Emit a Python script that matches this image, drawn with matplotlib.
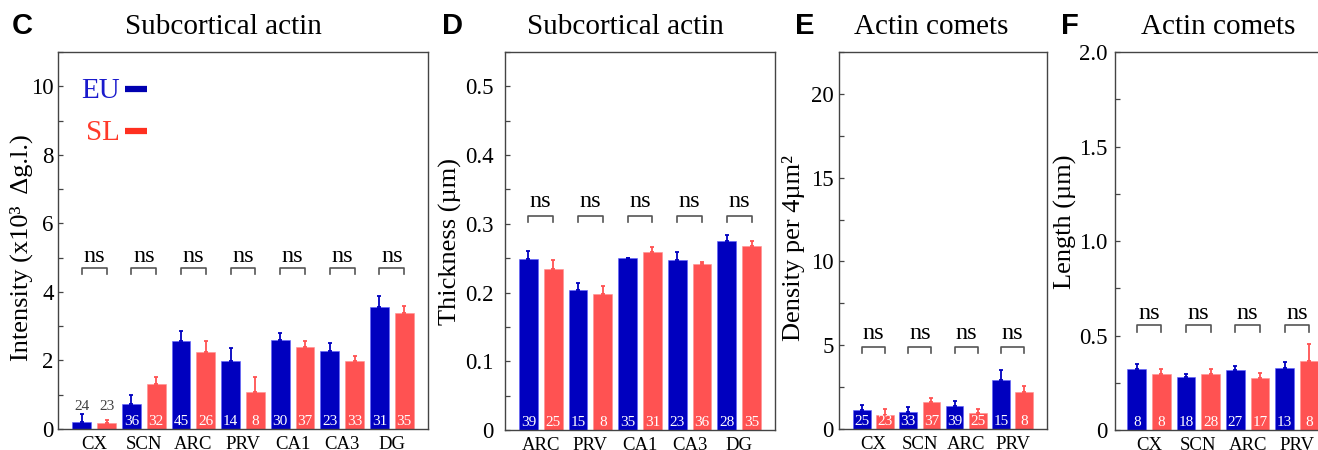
import matplotlib
matplotlib.use('Agg')
import matplotlib.pyplot as plt
import numpy as np
from matplotlib.ticker import MultipleLocator, FuncFormatter

plt.rcParams['font.family'] = ['Liberation Serif', 'DejaVu Serif']

BLUE = '#0000bf'
RED = '#ff5252'
FRAME = '#444444'

# Panel C - Subcortical actin intensity
c_regions = ['CX', 'SCN', 'ARC', 'PRV', 'CA1', 'CA3', 'DG']
c_eu = [0.20, 0.74, 2.57, 1.98, 2.60, 2.28, 3.57]
c_eu_err = [0.23, 0.24, 0.28, 0.38, 0.20, 0.22, 0.32]
c_sl = [0.18, 1.32, 2.24, 1.09, 2.38, 1.99, 3.38]
c_sl_err = [0.09, 0.21, 0.32, 0.44, 0.19, 0.14, 0.21]
c_n_eu = [24, 36, 45, 14, 30, 23, 31]
c_n_sl = [23, 32, 26, 8, 37, 33, 35]

# Panel D - Subcortical actin thickness
d_regions = ['ARC', 'PRV', 'CA1', 'CA3', 'DG']
d_eu = [0.249, 0.203, 0.250, 0.247, 0.275]
d_eu_err = [0.012, 0.011, 0.0, 0.012, 0.009]
d_sl = [0.234, 0.198, 0.259, 0.241, 0.267]
d_sl_err = [0.013, 0.012, 0.007, 0.004, 0.008]
d_n_eu = [39, 15, 35, 23, 28]
d_n_sl = [25, 8, 31, 36, 35]

# Panel E - Actin comet density
e_regions = ['CX', 'SCN', 'ARC', 'PRV']
e_eu = [1.13, 1.03, 1.39, 2.92]
e_eu_err = [0.28, 0.30, 0.30, 0.60]
e_sl = [0.85, 1.59, 0.97, 2.23]
e_sl_err = [0.32, 0.24, 0.20, 0.33]
e_n_eu = [25, 33, 39, 15]
e_n_sl = [23, 37, 25, 8]

# Panel F - Actin comet length
f_regions = ['CX', 'SCN', 'ARC', 'PRV']
f_eu = [0.321, 0.282, 0.317, 0.330]
f_eu_err = [0.026, 0.016, 0.021, 0.031]
f_sl = [0.298, 0.298, 0.277, 0.365]
f_sl_err = [0.026, 0.023, 0.026, 0.090]
f_n_eu = [8, 18, 27, 13]
f_n_sl = [8, 28, 17, 8]

W, H = 1318, 450
fig = plt.figure(figsize=(W / 100, H / 100), dpi=100)


def px_axes(left, right, top, bottom):
    return fig.add_axes([left / W, 1 - bottom / H, (right - left) / W, (bottom - top) / H])


def draw_panel(ax, regions, eu, eu_err, sl, sl_err, n_eu, n_sl, ylim, major, minor,
               fmt, ns_text_y, br_top, br_bot, xpad=0.73, ypad=4, n_above=None):
    x = np.arange(len(regions))
    off, w = 0.25, 0.38
    ax.bar(x - off, eu, w, color=BLUE, edgecolor='#6060ff', linewidth=0.4, zorder=2)
    ax.bar(x + off, sl, w, color=RED, edgecolor='#ff9090', linewidth=0.4, zorder=2)
    ax.errorbar(x - off, eu, yerr=[np.zeros(len(eu)), eu_err], fmt='none',
                ecolor=BLUE, elinewidth=1.3, capsize=1.5, capthick=1.3, zorder=3)
    ax.errorbar(x + off, sl, yerr=[np.zeros(len(sl)), sl_err], fmt='none',
                ecolor=RED, elinewidth=1.3, capsize=1.5, capthick=1.3, zorder=3)

    for i in range(len(regions)):
        for xx, n in ((x[i] - off, n_eu[i]), (x[i] + off, n_sl[i])):
            if n_above is not None and i in n_above:
                ax.text(xx, n_above[i], str(n), ha='center', va='center',
                        fontsize=11, color='#404040', zorder=4)
            else:
                ax.annotate(str(n), (xx, 0), xytext=(0, 0.5), textcoords='offset points',
                            ha='center', va='bottom', fontsize=11, color='white', zorder=4)
        # ns bracket
        ax.plot([x[i] - off, x[i] - off, x[i] + off, x[i] + off],
                [br_bot, br_top, br_top, br_bot], color='#555555', lw=1.2, zorder=3)
        ax.text(x[i], ns_text_y, 'ns', ha='center', va='center', fontsize=17.5)

    ax.set_xlim(-xpad, len(regions) - 1 + xpad)
    ax.set_ylim(*ylim)
    ax.set_xticks(x)
    ax.set_xticklabels(regions)
    ax.tick_params(axis='x', length=0, labelsize=13.5, pad=5)
    ax.yaxis.set_major_locator(MultipleLocator(major))
    ax.yaxis.set_minor_locator(MultipleLocator(minor))
    ax.yaxis.set_major_formatter(FuncFormatter(fmt))
    ax.tick_params(axis='y', which='both', direction='in', length=3.5, width=0.9,
                   color=FRAME, labelsize=16.5, pad=ypad)
    for s in ax.spines.values():
        s.set_color(FRAME)
        s.set_linewidth(1.0)


def int_fmt(v, pos):
    return f'{v:.0f}'


def dec_fmt(v, pos):
    return '0' if abs(v) < 1e-9 else f'{v:.1f}'


# C
axC = px_axes(58, 428, 52, 429)
draw_panel(axC, c_regions, c_eu, c_eu_err, c_sl, c_sl_err, c_n_eu, c_n_sl,
           (0, 11), 2, 1, int_fmt, 5.04, 4.70, 4.51, ypad=3, n_above={0: 0.67})
axC.set_ylabel('Intensity (x10³  Δg.l.)', fontsize=19)
axC.yaxis.set_label_coords(-0.068, 0.48)
axC.text(0.168, 0.897, 'EU', transform=axC.transAxes, ha='right', va='center',
         fontsize=21, color='#1a1acc')
axC.text(0.168, 0.786, 'SL', transform=axC.transAxes, ha='right', va='center',
         fontsize=21, color='#ff3a2a')
axC.plot([0.181, 0.241], [0.901, 0.901], transform=axC.transAxes, color='#0000b0',
         lw=4.5, solid_capstyle='butt')
axC.plot([0.181, 0.241], [0.790, 0.790], transform=axC.transAxes, color='#ff3020',
         lw=4.5, solid_capstyle='butt')

# D
axD = px_axes(505, 775, 52, 430)
draw_panel(axD, d_regions, d_eu, d_eu_err, d_sl, d_sl_err, d_n_eu, d_n_sl,
           (0, 0.55), 0.1, 0.05, dec_fmt, 0.332, 0.3115, 0.303, xpad=0.72, ypad=8)
axD.set_ylabel('Thickness (µm)', fontsize=19)
axD.yaxis.set_label_coords(-0.159, 0.5)

# E
axE = px_axes(839, 1047, 52, 429)
draw_panel(axE, e_regions, e_eu, e_eu_err, e_sl, e_sl_err, e_n_eu, e_n_sl,
           (0, 22.5), 5, 2.5, int_fmt, 5.71, 4.91, 4.52, xpad=0.74, ypad=4)
axE.set_ylabel('Density per 4µm²', fontsize=19)
axE.yaxis.set_label_coords(-0.163, 0.48)

# F (right side runs past the figure edge)
axF = px_axes(1115, 1331, 52, 430)
draw_panel(axF, f_regions, f_eu, f_eu_err, f_sl, f_sl_err, f_n_eu, f_n_sl,
           (0, 2.0), 0.5, 0.25, dec_fmt, 0.617, 0.556, 0.517, xpad=0.69, ypad=5.5)
axF.set_ylabel('Length (µm)', fontsize=19)
axF.yaxis.set_label_coords(-0.176, 0.55)

# titles and panel letters
titles = [('Subcortical actin', 223.5), ('Subcortical actin', 625.5),
          ('Actin comets', 931), ('Actin comets', 1218)]
for t, xp in titles:
    fig.text(xp / W, 1 - 34 / H, t, ha='center', va='baseline', fontsize=21)

for letter, xp in [('C', 12), ('D', 442), ('E', 795), ('F', 1061)]:
    fig.text(xp / W, 1 - 34 / H, letter, ha='left', va='baseline', fontsize=21,
             fontweight='bold', family='Liberation Sans')

fig.savefig('out.png', dpi=100)
